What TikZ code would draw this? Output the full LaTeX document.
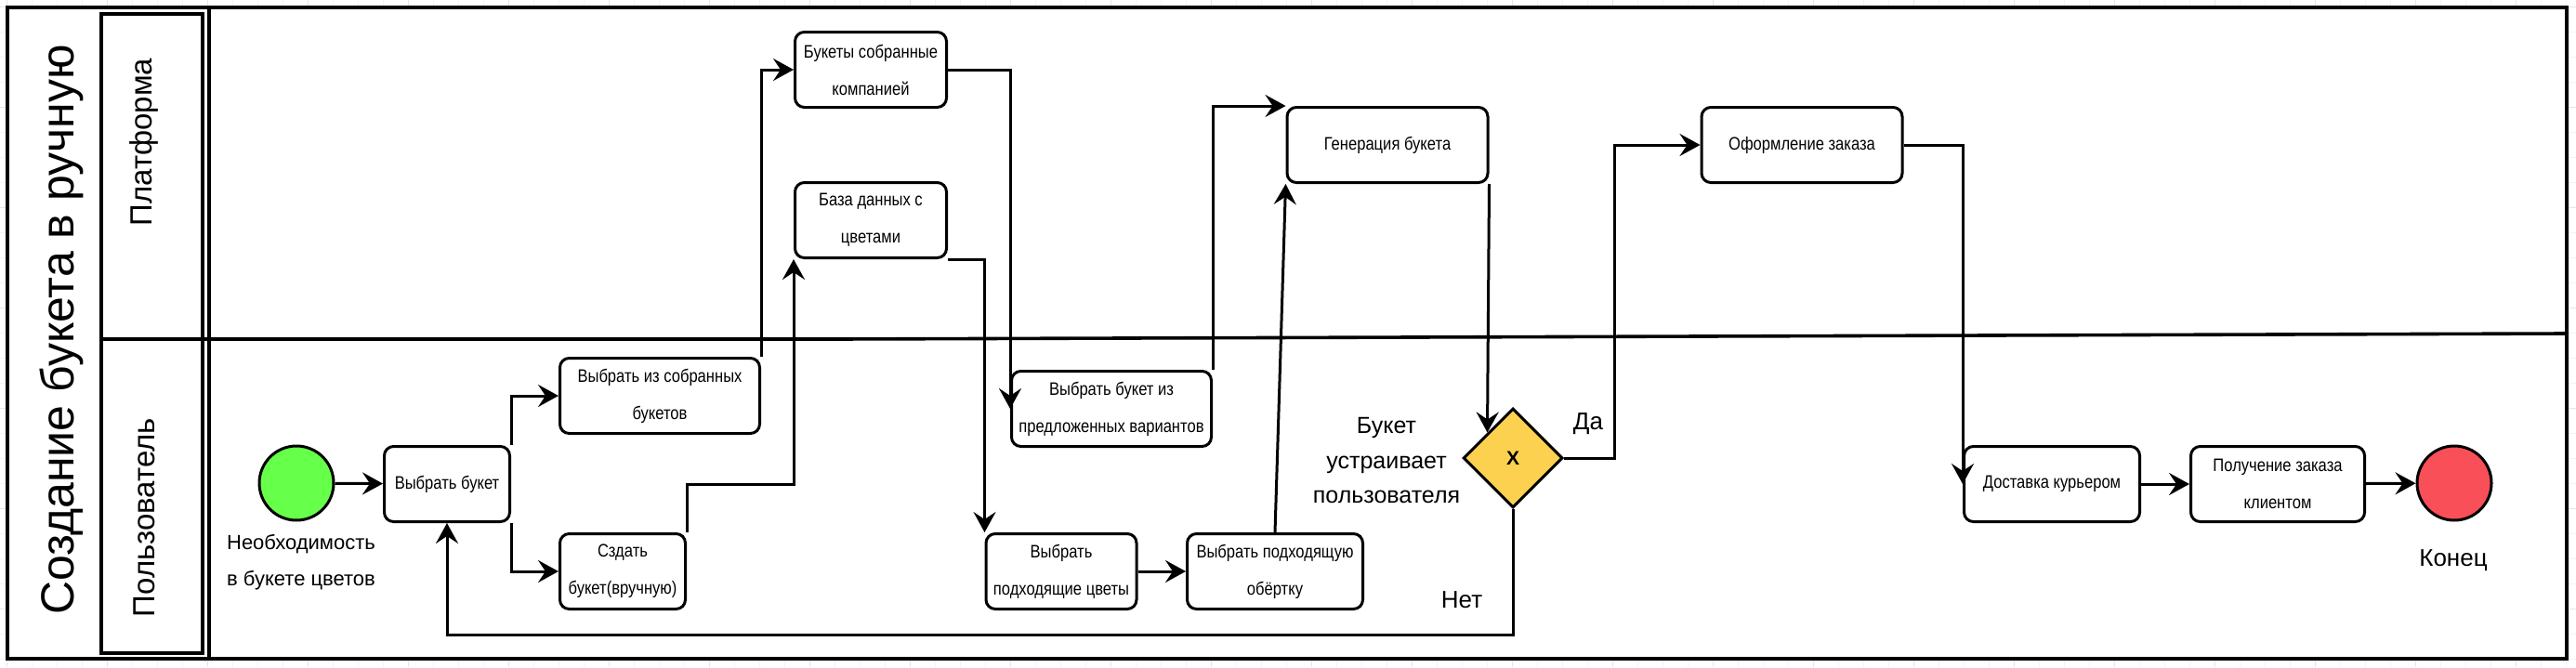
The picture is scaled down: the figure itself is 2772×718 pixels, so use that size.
\documentclass[tikz,border=0pt]{standalone}
\usepackage{fontspec}
\setmainfont{Liberation Sans}
\newfontfamily\boxfont{Liberation Sans}[FakeStretch=0.85]
\usetikzlibrary{positioning,calc,arrows.meta,shapes.geometric}
\definecolor{startgreen}{HTML}{66FF4A}
\definecolor{endred}{HTML}{F84F58}
\definecolor{gateyellow}{HTML}{FCD14F}
\definecolor{gridminor}{HTML}{F3F3F3}
\definecolor{gridmajor}{HTML}{E6E6E6}
\newcommand*{\fsz}[2]{\fontsize{#1}{#2}\selectfont}

\begin{document}
\begin{tikzpicture}[x=0.5pt,y=-0.5pt,
  task/.style={draw,line width=1.5pt,rounded corners=5pt,minimum height=40.5pt,
               inner sep=2pt,align=center,font=\boxfont\fsz{9.75}{20}},
  event/.style={draw,circle,line width=1.5pt,minimum size=40pt,inner sep=0pt},
  gateway/.style={draw,diamond,line width=1.5pt,fill=gateyellow,minimum width=53.5pt,
                  minimum height=53.5pt,inner sep=0pt,font=\bfseries\fsz{10.5}{12}},
  flow/.style={draw,line width=1.5pt,-{Stealth[length=11pt,width=12pt,inset=4pt]}},
  pool/.style={draw,line width=1.8pt},
  bigtext/.style={font=\fsz{13}{16}},
]
% Canvas with a faint grid round the pool
\useasboundingbox (0,0) rectangle (2772,718);
\fill[white] (0,0) rectangle (2772,718);
\foreach \gx in {0,...,102} \draw[gridminor,line width=0.5pt] ({7+27*\gx},0) -- ({7+27*\gx},718);
\foreach \gy in {0,...,26} \draw[gridminor,line width=0.5pt] (0,{7+27*\gy}) -- (2772,{7+27*\gy});
\foreach \gx in {0,...,25} \draw[gridmajor,line width=0.5pt] ({7+108*\gx},0) -- ({7+108*\gx},718);
\foreach \gy in {0,...,6} \draw[gridmajor,line width=0.5pt] (0,{7+108*\gy}) -- (2772,{7+108*\gy});
\fill[white] (8,8) rectangle (2762,709);
% Pool and lanes
\draw[pool] (8,8) rectangle (2762,709);
\draw[pool] (225,8) -- (225,709);
\draw[pool] (109,15) rectangle (218,703);
\draw[pool] (109,365) -- (900,365) -- (2762,359);
\node[rotate=90,font=\fsz{25}{30}] (title) at (66,355) {Создание букета в ручную};
\node[rotate=90,font=\fsz{16.5}{20}] (lanetop) at (155,153) {Платформа};
\node[rotate=90,font=\fsz{16.5}{20}] (lanebot) at (155,557) {Пользователь};
% Events, tasks and the gateway
\node[event,fill=startgreen] (start) at (319,520) {};
\node[task,minimum width=67.5pt] (pick) at (481,521) {Выбрать букет};
\node[task,minimum width=107.5pt] (fromset) at (710,426) {Выбрать из собранных\\букетов};
\node[task,minimum width=67.5pt] (manual) at (670,615) {Сздать\\букет(вручную)};
\node[task,minimum width=81.5pt] (ready) at (937,75) {Букеты собранные\\компанией};
\node[task,minimum width=81.5pt] (db) at (937,237) {База данных с\\цветами};
\node[task,minimum width=107.5pt] (offer) at (1196,440) {Выбрать букет из\\предложенных вариантов};
\node[task,minimum width=81pt] (flowers) at (1142,615) {Выбрать\\подходящие цветы};
\node[task,minimum width=94.5pt] (wrap) at (1372,615) {Выбрать подходящую\\обёртку};
\node[task,minimum width=108pt] (gen) at (1493,156) {Генерация букета};
\node[gateway] (dia) at (1628,493) {X};
\node[task,minimum width=108pt] (order) at (1939,156) {Оформление заказа};
\node[task,minimum width=94.5pt] (deliver) at (2208,521) {Доставка курьером};
\node[task,minimum width=93.5pt] (receive) at (2451,521) {Получение заказа\\клиентом};
\node[event,fill=endred] (end) at (2641,520) {};
% Labels
\node[align=center,font=\fsz{11}{19.5}] (needlbl) at (324,605) {Необходимость\\в букете цветов};
\node[align=center,font=\fsz{12.5}{18.75}] (asklbl) at (1492,496) {Букет\\устраивает\\пользователя};
\node[bigtext] (yes) at (1709,456) {Да};
\node[bigtext] (no) at (1573,646) {Нет};
\node[bigtext] (endlbl) at (2640,603) {Конец};
% Sequence flows
\draw[flow] (start) -- (pick);
\draw[flow] (pick.north east) |- (fromset.west);
\draw[flow] (pick.south east) |- (manual.west);
\draw[flow] (fromset.north east) |- (ready.west);
\draw[flow] (manual.north east) -- (manual.north east |- pick.east) -| (db.south west);
\draw[flow] (ready.east) -| (offer.west);
\draw[flow] (db.south east) -| (flowers.north west);
\draw[flow] (flowers) -- (wrap);
\draw[flow] (wrap.north) -- (gen.south west);
\draw[flow] (offer.north east) |- (gen.north west);
\draw[flow] (gen.south east) -- ($(dia.north)!.5!(dia.west)$);
\draw[flow] (dia.east) -- ++(54,0) |- (order.west);
\draw[flow] (order.east) -| (deliver.west);
\draw[flow] (deliver) -- (receive);
\draw[flow] (receive) -- (end);
\draw[flow] (dia.south) -- ++(0,135) -| (pick.south);
\end{tikzpicture}
\end{document}
